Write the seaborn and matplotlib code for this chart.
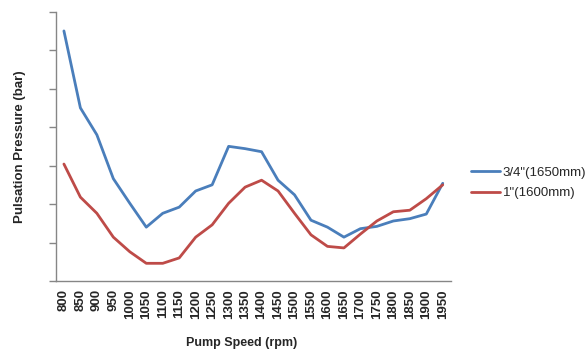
import pandas as pd
import numpy as np
import matplotlib
matplotlib.use("Agg")
import matplotlib.pyplot as plt
import seaborn as sns

# data (y in bar, ticks every 0.5)
speeds = [800, 850, 900, 950, 1000, 1050, 1100, 1150, 1200, 1250, 1300, 1350,
          1400, 1450, 1500, 1550, 1600, 1650, 1700, 1750, 1800, 1850, 1900, 1950]
pipe_34 = [3.25, 2.25, 1.90, 1.33, 1.01, 0.70, 0.88, 0.96, 1.17, 1.25, 1.75, 1.72,
           1.68, 1.31, 1.12, 0.79, 0.70, 0.57, 0.68, 0.71, 0.78, 0.81, 0.87, 1.27]
pipe_1 = [1.52, 1.09, 0.88, 0.57, 0.38, 0.23, 0.23, 0.30, 0.57, 0.73, 1.01, 1.22,
          1.31, 1.17, 0.88, 0.60, 0.45, 0.43, 0.61, 0.78, 0.90, 0.92, 1.07, 1.25]
series_names = ['3/4"(1650mm)', '1"(1600mm)']
colors = ['#4A7EBB', '#BE4B48']

df = pd.DataFrame({
    'speed': [str(s) for s in speeds] * 2,
    'pressure': pipe_34 + pipe_1,
    'series': [series_names[0]] * len(speeds) + [series_names[1]] * len(speeds),
})

sns.set_style('white')
plt.rcParams['font.family'] = ['Liberation Sans', 'DejaVu Sans']

fig = plt.figure(figsize=(5.88, 3.51), dpi=100)
ax = fig.add_axes([0.0947, 0.1994, 0.6723, 0.7673])

sns.lineplot(data=df, x='speed', y='pressure', hue='series', sort=False,
             palette=colors, linewidth=2.0, ax=ax)

n = len(speeds)
ax.set_xlim(-0.5, n - 0.5)
ax.set_ylim(0, 3.5)

# category axis: labels at centres, tick marks on the boundaries
ax.set_xticks(range(n))
ax.set_xticklabels([str(s) for s in speeds], rotation=90, fontsize=9.5, fontweight='bold')
ax.set_xticks(np.arange(-0.5, n, 1.0), minor=True)
ax.tick_params(axis='x', which='major', length=0, pad=6)
ax.tick_params(axis='x', which='minor', length=4, width=1, color='#868686', direction='out')

ax.set_yticks(np.arange(0, 3.51, 0.5))
ax.set_yticklabels([])
ax.tick_params(axis='y', length=5, width=1, color='#868686', direction='out', left=True)

for side in ['top', 'right']:
    ax.spines[side].set_visible(False)
for side in ['left', 'bottom']:
    ax.spines[side].set_color('#868686')
    ax.spines[side].set_linewidth(1)

ax.set_xlabel('Pump Speed (rpm)', fontsize=9, fontweight='bold')
ax.xaxis.set_label_coords(0.471, -0.230)
ax.xaxis.label.set_va('center')
ax.set_ylabel('Pulsation Pressure (bar)', fontsize=9.5, fontweight='bold')
ax.yaxis.set_label_coords(-0.09, 0.5)
ax.yaxis.label.set_va('center')

ax.legend(loc='center left', bbox_to_anchor=(471 / 588, 1 - 183 / 351),
          bbox_transform=fig.transFigure, frameon=False, fontsize=9.5,
          borderpad=0, borderaxespad=0, handlelength=2.2, handletextpad=0.2,
          labelspacing=0.6, title=None)

fig.savefig('out.png', dpi=100)
